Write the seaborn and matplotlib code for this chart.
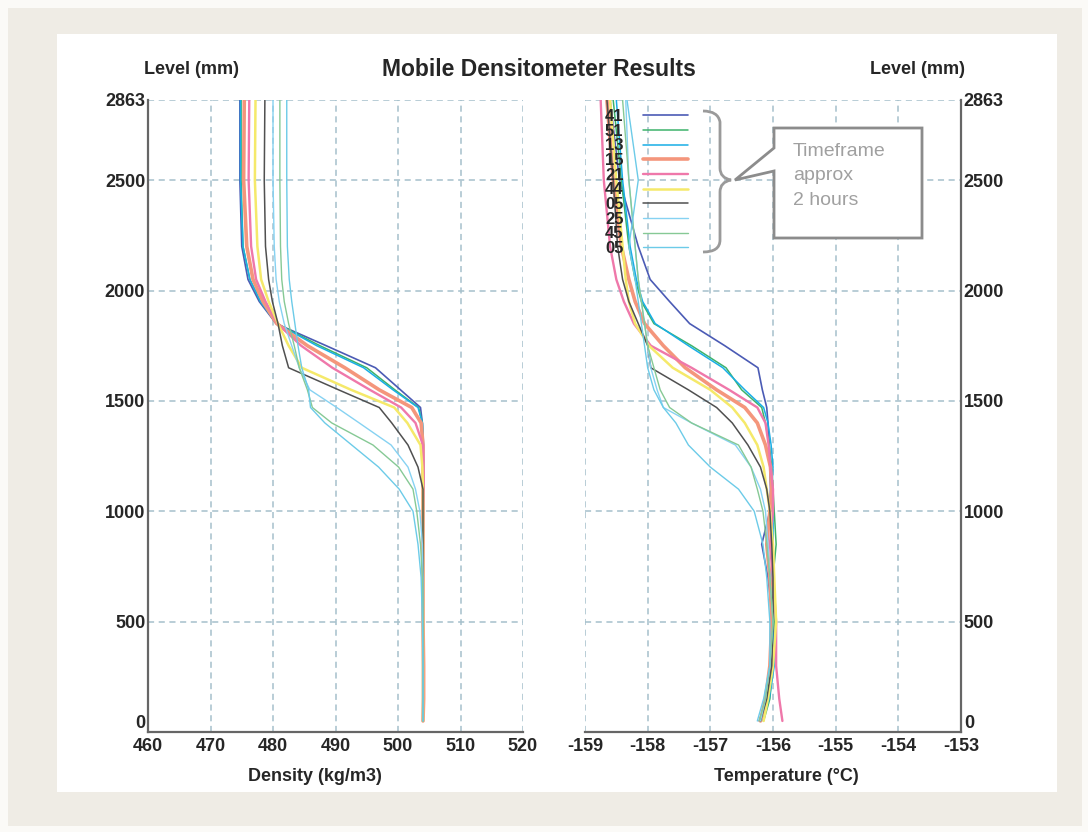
import pandas as pd
import seaborn as sns
import matplotlib.pyplot as plt
from matplotlib.lines import Line2D
from matplotlib.patches import Rectangle, Polygon, PathPatch
from matplotlib.path import Path

# level grid (mm) shared by all profiles
level = [2863, 2500, 2200, 2050, 1950, 1850, 1750, 1650, 1550, 1470, 1400,
         1300, 1200, 1100, 1000, 850, 700, 500, 300, 150, 50]

# legend labels (minutes of each run)
runs = ["41", "51", "13", "15", "21", "44", "05", "25", "45", "05"]

# density profiles (kg/m3)
dens_1 = [474.7, 474.7, 475.0, 476.0, 477.8, 480.5, 488.5, 496.4, 500.4, 503.6, 503.9,
          504.0, 504.1, 504.1, 504.1, 504.0, 504.0, 504.0, 504.0, 504.0, 504.0]
dens_2 = [474.9, 474.9, 475.2, 476.3, 478.0, 480.6, 487.5, 495.0, 499.5, 503.3, 503.9,
          504.0, 504.0, 504.0, 504.0, 504.0, 504.0, 504.0, 504.0, 504.0, 504.0]
dens_3 = [474.8, 474.8, 475.2, 476.3, 478.0, 480.6, 487.0, 494.5, 499.2, 503.2, 503.9,
          504.1, 504.1, 504.0, 504.0, 504.0, 504.0, 504.0, 504.0, 504.0, 504.0]
dens_4 = [475.4, 475.3, 475.8, 476.8, 478.4, 480.6, 485.5, 491.5, 497.0, 502.2, 503.7,
          504.0, 504.0, 504.0, 504.0, 504.0, 504.0, 504.0, 504.1, 504.1, 504.0]
dens_5 = [476.2, 476.1, 476.5, 477.3, 478.8, 480.7, 484.5, 489.5, 495.5, 500.5, 502.8,
          504.0, 504.1, 504.1, 504.0, 504.0, 504.0, 504.0, 504.0, 504.0, 504.0]
dens_6 = [477.2, 477.1, 477.5, 478.1, 479.3, 480.8, 482.5, 484.6, 492.5, 499.4, 501.5,
          503.6, 503.9, 504.0, 504.0, 504.0, 504.0, 504.0, 504.0, 504.0, 504.0]
dens_7 = [478.7, 478.6, 478.8, 479.3, 479.9, 480.8, 481.5, 482.5, 490.5, 497.0, 499.0,
          501.6, 503.2, 504.0, 504.0, 504.0, 504.0, 504.0, 504.0, 504.0, 504.0]
dens_8 = [480.0, 480.0, 480.2, 480.5, 481.0, 481.8, 483.0, 484.2, 485.9, 490.2, 493.8,
          498.9, 501.6, 502.8, 503.5, 503.9, 504.0, 504.0, 504.0, 504.0, 504.0]
dens_9 = [481.1, 481.1, 481.2, 481.4, 481.8, 482.5, 483.4, 484.2, 485.5, 486.3, 489.4,
          496.0, 500.1, 502.4, 503.0, 503.6, 503.9, 504.0, 504.0, 504.0, 504.0]
dens_10 = [482.2, 482.2, 482.3, 482.6, 483.0, 483.5, 484.0, 484.6, 485.7, 486.0, 488.3,
           492.6, 496.9, 500.2, 502.4, 503.2, 503.7, 503.9, 504.0, 504.0, 504.0]

# temperature profiles (deg C)
temp_1 = [-158.6, -158.45, -158.15, -157.96, -157.65, -157.33, -156.77, -156.24, -156.17, -156.1, -156.08,
          -156.06, -156.05, -156.04, -156.05, -156.18, -156.08, -156.0, -156.05, -156.1, -156.22]
temp_2 = [-158.55, -158.42, -158.3, -158.2, -158.1, -157.9, -157.3, -156.75, -156.5, -156.18, -156.12,
          -156.06, -156.02, -156.0, -155.98, -155.95, -156.0, -155.98, -156.0, -156.05, -156.15]
temp_3 = [-158.5, -158.4, -158.28, -158.18, -158.08, -157.88, -157.35, -156.8, -156.45, -156.15, -156.08,
          -156.03, -156.0, -156.02, -156.0, -156.0, -156.03, -156.0, -155.98, -156.06, -156.18]
temp_4 = [-158.65, -158.55, -158.42, -158.3, -158.2, -158.05, -157.75, -157.4, -156.9, -156.45, -156.25,
          -156.12, -156.04, -156.02, -156.05, -156.1, -156.05, -156.02, -156.05, -156.12, -156.2]
temp_5 = [-158.75, -158.7, -158.6, -158.5, -158.38, -158.22, -157.95, -157.3, -156.7, -156.25, -156.12,
          -156.07, -156.04, -156.0, -156.0, -156.05, -156.0, -155.95, -155.95, -155.9, -155.85]
temp_6 = [-158.6, -158.5, -158.4, -158.35, -158.3, -158.2, -157.98, -157.6, -157.0, -156.65, -156.45,
          -156.25, -156.15, -156.1, -156.05, -156.0, -155.98, -155.95, -156.0, -156.08, -156.15]
temp_7 = [-158.65, -158.55, -158.48, -158.4, -158.3, -158.15, -158.0, -157.95, -157.35, -156.9, -156.65,
          -156.4, -156.2, -156.1, -156.05, -156.02, -156.0, -156.0, -156.02, -156.1, -156.2]
temp_8 = [-158.35, -158.3, -158.2, -158.15, -158.1, -158.05, -158.0, -157.95, -157.85, -157.75, -157.3,
          -156.6, -156.35, -156.2, -156.12, -156.08, -156.05, -156.0, -156.05, -156.12, -156.2]
temp_9 = [-158.4, -158.3, -158.2, -158.15, -158.1, -158.05, -158.0, -157.9, -157.8, -157.65, -157.3,
          -156.55, -156.35, -156.25, -156.16, -156.1, -156.05, -156.0, -156.05, -156.12, -156.22]
temp_10 = [-158.33, -158.15, -158.3, -158.2, -158.15, -158.1, -158.05, -158.0, -157.9, -157.75, -157.55,
           -157.35, -157.0, -156.55, -156.3, -156.16, -156.1, -156.05, -156.05, -156.15, -156.25]

density = [dens_1, dens_2, dens_3, dens_4, dens_5, dens_6, dens_7, dens_8, dens_9, dens_10]
temperature = [temp_1, temp_2, temp_3, temp_4, temp_5, temp_6, temp_7, temp_8, temp_9, temp_10]

colors = ["#4b5bb5", "#3db36b", "#19aee6", "#f4967c", "#ef78aa",
          "#f5e96a", "#505050", "#86d2f2", "#86c995", "#6ccbe8"]
widths = [1.2, 1.1, 1.1, 2.6, 1.7, 1.8, 1.1, 1.0, 1.0, 1.0]

sns.set_style("white")
plt.rcParams["font.family"] = ["Liberation Sans", "DejaVu Sans"]
plt.rcParams["axes.unicode_minus"] = False

W, H = 1088, 832
fig = plt.figure(figsize=(W / 100, H / 100), dpi=100)
fig.patch.set_facecolor("#fbfaf7")


def fx(x):
    return x / W


def fy(y):
    return 1 - y / H


# background panels
fig.patches.append(Rectangle((fx(8), fy(826)), fx(1074), 818 / H, transform=fig.transFigure,
                             facecolor="#efece5", edgecolor="none", zorder=-3))
fig.patches.append(Rectangle((fx(57), fy(792)), fx(1000), 758 / H, transform=fig.transFigure,
                             facecolor="white", edgecolor="none", zorder=-2))

ax1 = fig.add_axes([fx(148), fy(732), fx(375), 632 / H])
ax2 = fig.add_axes([fx(585), fy(732), fx(376), 632 / H])

for i in range(len(runs)):
    sns.lineplot(x=density[i], y=level, sort=False, estimator=None, color=colors[i],
                 linewidth=widths[i], ax=ax1)
    sns.lineplot(x=temperature[i], y=level, sort=False, estimator=None, color=colors[i],
                 linewidth=widths[i], ax=ax2)

yt = [0, 500, 1000, 1500, 2000, 2500, 2863]
for ax in (ax1, ax2):
    ax.set_facecolor("none")
    ax.set_ylim(0, 2863)
    ax.set_yticks(yt)
    ax.grid(True, linestyle=(0, (4, 3)), color="#a6c0cc", linewidth=1.1)
    ax.tick_params(length=0, labelsize=13, pad=2)
    ax.tick_params(axis="x", pad=4)
    for s in ax.spines.values():
        s.set_visible(False)
    ax.spines["bottom"].set_visible(True)
    ax.spines["bottom"].set_color("#666666")
    ax.spines["bottom"].set_linewidth(1.6)
    ax.set_ylabel("")

ax1.set_xlim(460, 520)
ax1.set_xticks(range(460, 521, 10))
ax1.spines["left"].set_visible(True)
ax1.spines["left"].set_color("#666666")
ax1.spines["left"].set_linewidth(1.6)

ax2.set_xlim(-159, -153)
ax2.set_xticks(range(-159, -152))
ax2.yaxis.tick_right()
ax2.spines["right"].set_visible(True)
ax2.spines["right"].set_color("#666666")
ax2.spines["right"].set_linewidth(1.6)

for ax in (ax1, ax2):
    for lab in ax.get_xticklabels() + ax.get_yticklabels():
        lab.set_fontweight("bold")
    # the "0" level label sits just above the bottom axis
    ax.get_yticklabels()[0].set_verticalalignment("bottom")

ax1.set_xlabel("Density (kg/m3)", fontsize=13, fontweight="bold", labelpad=2)
ax2.set_xlabel("Temperature (°C)", fontsize=13, fontweight="bold", labelpad=2)
ax1.xaxis.set_label_coords((315 - 148) / 375, -(768 - 732) / 632)
ax2.xaxis.set_label_coords((786 - 585) / 376, -(768 - 732) / 632)

fig.text(fx(539), fy(70), "Mobile Densitometer Results", fontsize=16.5, fontweight="bold",
         ha="center", va="center")
fig.text(fx(192), fy(70), "Level (mm)", fontsize=13, fontweight="bold", ha="center", va="center")
fig.text(fx(918), fy(70), "Level (mm)", fontsize=13, fontweight="bold", ha="center", va="center")

# legend, labels on the left of the line samples
handles = [Line2D([], [], color=c, linewidth=w) for c, w in zip(colors, widths)]
ax2.legend(handles, runs, loc="upper left", bbox_to_anchor=(fx(605), fy(109)),
           bbox_transform=fig.transFigure, frameon=False, markerfirst=False,
           labelspacing=-0.02, handlelength=2.7, handletextpad=1.15,
           borderpad=0, borderaxespad=0, prop={"weight": "bold", "size": 12})

# brace and callout
brace = [(703, 111), (718, 111), (720, 122), (720, 168), (720, 178), (731, 180),
         (720, 182), (720, 192), (720, 240), (720, 252), (703, 252)]
codes = [Path.MOVETO, Path.CURVE3, Path.CURVE3, Path.LINETO, Path.CURVE3, Path.CURVE3,
         Path.CURVE3, Path.CURVE3, Path.LINETO, Path.CURVE3, Path.CURVE3]
fig.patches.append(PathPatch(Path([(fx(x), fy(y)) for x, y in brace], codes),
                             transform=fig.transFigure, facecolor="none",
                             edgecolor="#9a9a9a", linewidth=2, zorder=5))
box = [(774, 128), (922, 128), (922, 238), (774, 238), (774, 171), (735, 180), (774, 148)]
fig.patches.append(Polygon([(fx(x), fy(y)) for x, y in box], closed=True,
                           transform=fig.transFigure, facecolor="white",
                           edgecolor="#8c8c8c", linewidth=2, zorder=5))
fig.text(fx(793), fy(176), "Timeframe\napprox\n2 hours", fontsize=14, color="#a0a0a0",
         ha="left", va="center", linespacing=1.55, zorder=6)

fig.savefig("out.png", dpi=100)
